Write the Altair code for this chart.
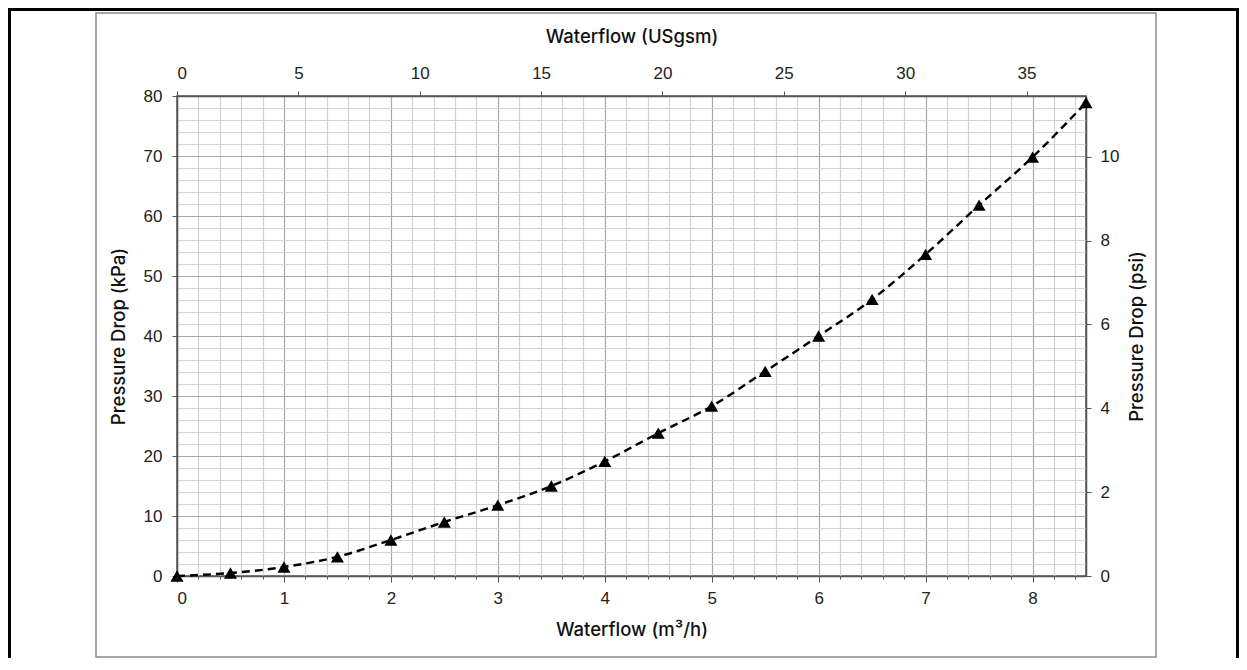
import altair as alt
import pandas as pd

# ---- data ----
flow_m3h = [0, 0.5, 1, 1.5, 2, 2.5, 3, 3.5, 4, 4.5, 5, 5.5, 6, 6.5, 7, 7.5, 8, 8.5]
pressure_kpa = [0, 0.5, 1.5, 3.2, 6.0, 9.0, 11.8, 15.0, 19.1, 23.8, 28.3, 34.1,
                40.0, 46.1, 53.6, 61.8, 69.8, 78.9]

# secondary axes extents (USgsm on top, psi on the right)
usgsm_extent = [0, 37.45]
psi_extent = [0, 11.45]

# tick / grid values
x_grid_values = [round(i * 0.2, 1) for i in range(43)]
y_grid_values = list(range(0, 81, 2))
top_values = [0, 5, 10, 15, 20, 25, 30, 35]
right_values = [0, 2, 4, 6, 8, 10]

W, H = 909, 480
PAD_L, PAD_T = 169, 88
PAD_R = 1231 - PAD_L - W
PAD_B = 650 - PAD_T - H

LABEL_FONT = "Liberation Sans"
TITLE_FONT = "Inter"

df = pd.DataFrame({"flow": flow_m3h, "kpa": pressure_kpa})
sec = pd.DataFrame({"us": usgsm_extent, "psi": psi_extent})
one = pd.DataFrame({"a": [0]})

axis_common = dict(
    labelFont=LABEL_FONT, labelFontSize=17, labelColor="#222",
    titleFont=TITLE_FONT, titleFontSize=18.5, titleFontWeight=500, titleColor="#111",
    domainColor="#555", domainWidth=1.5, tickColor="#555", tickWidth=1,
)

x_main = alt.X(
    "flow:Q",
    scale=alt.Scale(domain=[0, 8.5], nice=False, zero=True),
    axis=alt.Axis(
        orient="bottom", values=x_grid_values, title="Waterflow (m³/h)",
        labelExpr="datum.value % 1 === 0 ? format(datum.value, 'd') : ''",
        labelOverlap=False, labelPadding=8, titlePadding=14,
        grid=True,
        gridColor={"condition": {"test": "datum.value % 1 === 0", "value": "#a8a8a8"}, "value": "#d2d2d2"},
        gridWidth=1.2,
        tickSize={"condition": {"test": "datum.value % 1 === 0", "value": 6}, "value": 3},
        **axis_common,
    ),
)
y_main = alt.Y(
    "kpa:Q",
    scale=alt.Scale(domain=[0, 80], nice=False, zero=True),
    axis=alt.Axis(
        orient="left", values=y_grid_values, title="Pressure Drop (kPa)",
        labelExpr="datum.value % 10 === 0 ? format(datum.value, 'd') : ''",
        labelOverlap=False, labelPadding=10, titlePadding=15,
        grid=True,
        gridColor={"condition": {"test": "datum.value % 10 === 0", "value": "#a8a8a8"}, "value": "#d2d2d2"},
        gridWidth=1.2,
        tickSize={"condition": {"test": "datum.value % 10 === 0", "value": 5}, "value": 0},
        **axis_common,
    ),
)

line = alt.Chart(df).mark_line(
    color="black", strokeWidth=2.4, strokeDash=[8, 5], interpolate="monotone"
).encode(x=x_main, y=y_main)

points = alt.Chart(df).mark_point(
    shape="triangle-up", filled=True, color="black", size=170, opacity=1
).encode(x=x_main, y=y_main)

main = alt.layer(line, points)

secondary = alt.Chart(sec).mark_point(opacity=0).encode(
    x=alt.X("us:Q", scale=alt.Scale(domain=usgsm_extent, nice=False, zero=True),
            axis=alt.Axis(orient="top", values=top_values, title="Waterflow (USgsm)",
                          grid=False, tickSize=5, labelPadding=9, titlePadding=18,
                          format="d", **axis_common)),
    y=alt.Y("psi:Q", scale=alt.Scale(domain=psi_extent, nice=False, zero=True),
            axis=alt.Axis(orient="right", values=right_values, title="Pressure Drop (psi)",
                          grid=False, tickSize=5, labelPadding=9, titlePadding=28,
                          titleAngle=270, format="d", **axis_common)),
)

# decorative frames (inner grey box and outer black border)
inner_box = alt.Chart(one).mark_rect(
    fill="white", fillOpacity=0, stroke="#8a8a8a", strokeWidth=1.5
).encode(
    x=alt.value(96 - 177), x2=alt.value(1156 - 177),
    y=alt.value(13 - 96), y2=alt.value(657 - 96),
)
outer_top = alt.Chart(one).mark_rule(color="black", strokeWidth=3).encode(
    x=alt.value(8 - 177), x2=alt.value(1239 - 177), y=alt.value(9.5 - 96))
outer_left = alt.Chart(one).mark_rule(color="black", strokeWidth=3).encode(
    x=alt.value(9.5 - 177), y=alt.value(8 - 96), y2=alt.value(658 - 96))
outer_right = alt.Chart(one).mark_rule(color="black", strokeWidth=3).encode(
    x=alt.value(1237.5 - 177), y=alt.value(8 - 96), y2=alt.value(658 - 96))

chart = alt.layer(
    inner_box, outer_top, outer_left, outer_right, main, secondary
).resolve_scale(
    x="independent", y="independent"
).properties(
    width=W, height=H,
    autosize=alt.AutoSizeParams(type="none"),
    padding={"left": PAD_L, "top": PAD_T, "right": PAD_R, "bottom": PAD_B},
    background="white",
).configure_view(
    stroke="#555", strokeWidth=1.5
)

chart.save("out.html", embed_options={"renderer": "svg", "actions": False})
